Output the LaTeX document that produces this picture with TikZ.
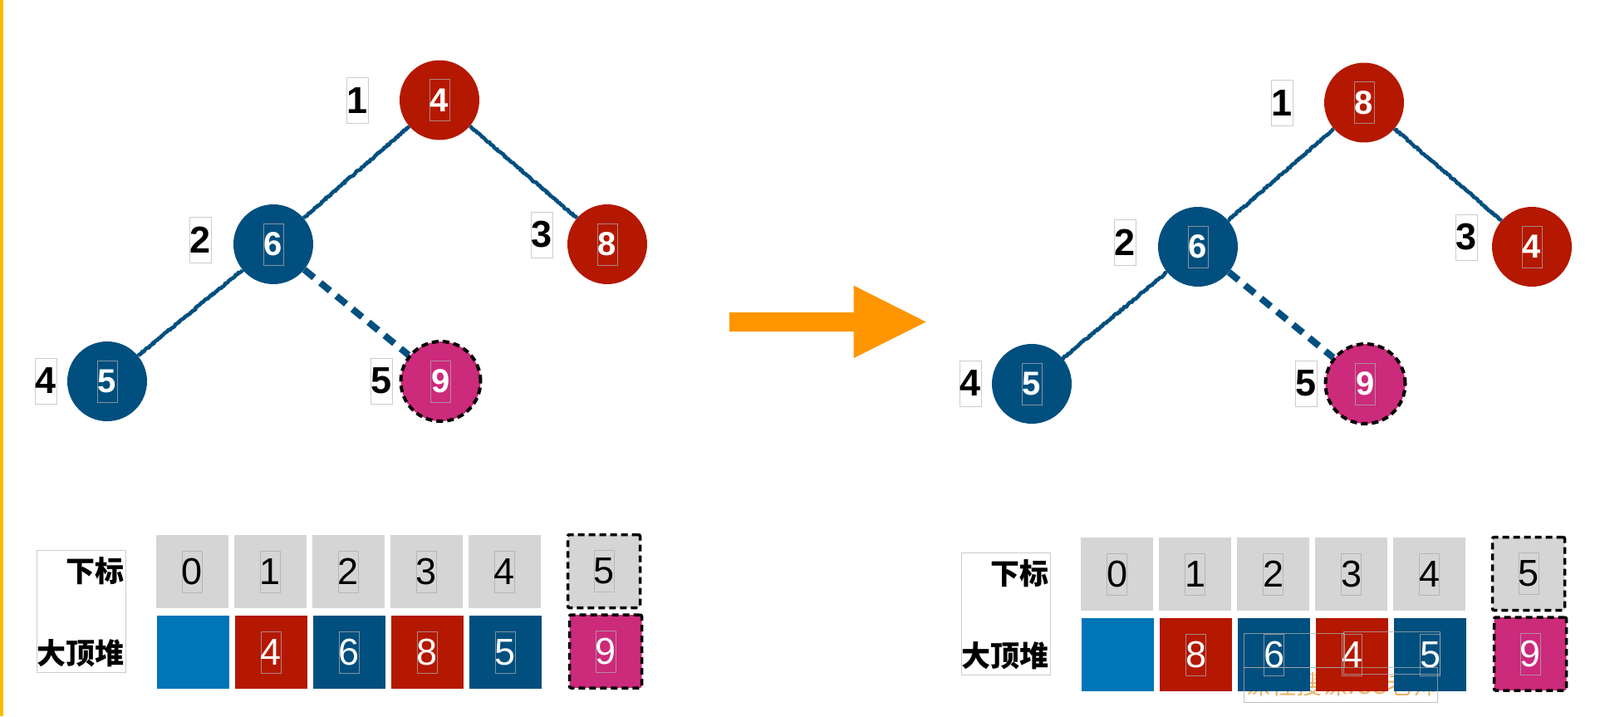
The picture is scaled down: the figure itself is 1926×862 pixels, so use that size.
\documentclass[tikz,border=0pt]{standalone}
\usepackage{fontspec}
\setmainfont{Liberation Sans}
\newfontfamily\cjkfont{Noto Sans CJK SC}
\usetikzlibrary{decorations.pathmorphing}
\definecolor{hred}{HTML}{B41800}
\definecolor{hblue}{HTML}{014F7F}
\definecolor{hlight}{HTML}{0075B7}
\definecolor{hmag}{HTML}{CC2A7B}
\definecolor{hgray}{HTML}{D5D5D5}
\definecolor{horange}{HTML}{FF9500}
\definecolor{hyellow}{HTML}{F7BC00}
\definecolor{wmorange}{HTML}{E9B56A}
\tikzset{
  x=1pt, y=-1pt,
  tboxline/.style={draw=gray!65, draw opacity=0.75, line width=1pt, solid, sharp corners},
  tbox/.style={path picture={\draw[tboxline] ([shift={(-12pt,-25pt)}]path picture bounding box.center) rectangle ++(24pt,50pt);}},
  tnode/.style={circle, minimum size=96pt, inner sep=0pt, text=white,
    font=\fontsize{40}{40}\selectfont\bfseries, tbox},
  dnode/.style={draw=black, line width=4pt, dash pattern=on 8pt off 5pt},
  idx/.style={draw=gray!40, fill=white, line width=1pt, minimum width=26pt, minimum height=55pt,
    inner sep=0pt, font=\fontsize{45}{45}\selectfont\bfseries},
  cellbase/.style={minimum width=87pt, minimum height=88pt, inner sep=0pt,
    font=\fontsize{45}{45}\selectfont},
  gcell/.style={cellbase, fill=hgray, text=black, tbox},
  vcell/.style={cellbase, text=white, tbox},
  dcell/.style={draw=black, line width=3.5pt, dash pattern=on 8pt off 5pt, rounded corners=2pt},
  edge/.style={draw=hblue, line width=4.5pt, line join=round, decorate,
    decoration={random steps, segment length=1.5pt, amplitude=0.9pt}},
  dedge/.style={draw=hblue, line width=8pt, dash pattern=on 15pt off 10pt},
  lab/.style={draw=gray!40, line width=1pt, minimum width=107pt, minimum height=147pt, inner sep=0pt},
  labtxt/.style={inner sep=0pt, font=\cjkfont\bfseries\fontsize{35}{35}\selectfont},
}
\newcommand\heapscene[8]{%
\begin{scope}[shift={(#1,#2)}, name prefix=#3-]
  \node[tnode, fill=hred] (n1) at (529,120.5) {#4};
  \node[tnode, fill=hblue] (n2) at (329,294) {#5};
  \node[tnode, fill=hred] (n3) at (731,294) {#6};
  \node[tnode, fill=hblue] (n4) at (129,459) {#7};
  \node[tnode, fill=hmag, dnode] (n5) at (530.5,459) {#8};
  \draw[edge] (n1) -- (n2);
  \draw[edge] (n1) -- (n3);
  \draw[edge] (n2) -- (n4);
  \draw[dedge] (n2) -- (n5);
  \node[idx] (i1) at (430,121.3) {1};
  \node[idx] (i2) at (241,288.5) {2};
  \node[idx] (i3) at (652,282.5) {3};
  \node[idx] (i4) at (55,458.5) {4};
  \node[idx] (i5) at (459,458.5) {5};
  \node[lab] (lab) at (97.5,735.6) {};
  \node[labtxt, anchor=east] (l1) at (150,687) {下标};
  \node[labtxt, anchor=east] (l2) at (150,786) {大顶堆};
  \foreach \i/\x in {0/231.5,1/325.5,2/419.5,3/513.5,4/607.5}
    \node[gcell] (c\i) at (\x,688) {\i};
  \node[gcell, dcell] (c5) at (727,687.5) {5};
  \node[cellbase, fill=hlight] (v0) at (232.5,785) {};
  \node[vcell, fill=hred] (v1) at (326.5,785) {#4};
  \node[vcell, fill=hblue] (v2) at (420.5,785) {#5};
  \node[vcell, fill=hred] (v3) at (514.5,785) {#6};
  \node[vcell, fill=hblue] (v4) at (608.5,785) {#7};
  \node[vcell, fill=hmag, dcell] (v5) at (729,784) {#8};
\end{scope}}
\begin{document}
\begin{tikzpicture}
  \useasboundingbox (0,0) rectangle (1926,862);
  \fill[hyellow] (0,0) rectangle (4,862);
  \node[inner sep=0pt, text=wmorange, font=\cjkfont\fontsize{31}{31}\selectfont] (wm) at (1615,824) {课程搜课.CC老师};
  \heapscene{0}{0}{L}{4}{6}{8}{5}{9}
  \heapscene{1113}{3}{R}{8}{6}{4}{5}{9}
  \fill[horange] (878,376) -- (1027.5,376) -- (1027.5,343.6) -- (1114.7,387.5)
    -- (1027.5,431) -- (1027.5,399) -- (878,399) -- cycle;
  \draw[tboxline] (1497,762.7) rectangle (1618,803);
  \draw[tboxline] (1617,760.7) rectangle (1733,811.7);
  \draw[tboxline] (1497,803) rectangle (1730,845.7);
\end{tikzpicture}
\end{document}
